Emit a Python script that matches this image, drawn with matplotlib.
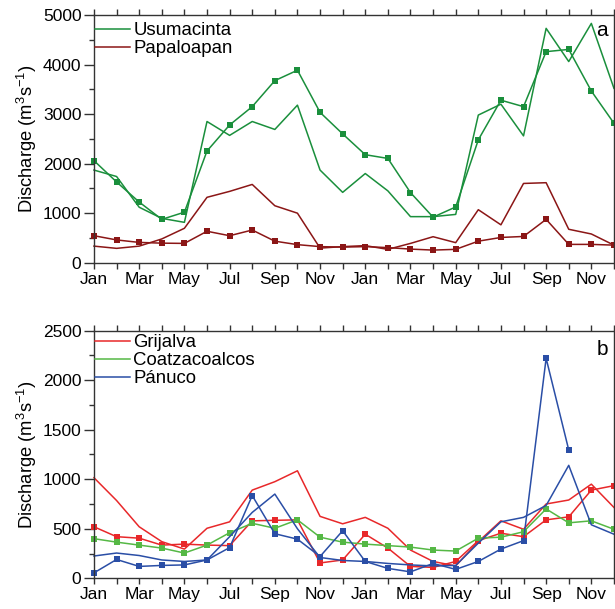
import matplotlib
matplotlib.use('Agg')
import matplotlib.pyplot as plt
from matplotlib.lines import Line2D
from matplotlib.ticker import MultipleLocator

plt.rcParams['font.family'] = ['Liberation Sans', 'DejaVu Sans']
plt.rcParams['mathtext.fontset'] = 'custom'
plt.rcParams['mathtext.rm'] = 'Liberation Sans'

months = ['Jan', 'Feb', 'Mar', 'Apr', 'May', 'Jun', 'Jul', 'Aug', 'Sep', 'Oct', 'Nov', 'Dec'] * 2
x = list(range(24))

# panel a
usuma_line = [1870, 1740, 1120, 895, 815, 2850, 2570, 2850, 2690, 3180, 1870, 1420,
              1800, 1450, 930, 930, 975, 2980, 3200, 2560, 4730, 4060, 4830, 3520]
usuma_mark = [2060, 1630, 1225, 875, 1020, 2255, 2780, 3150, 3675, 3885, 3035, 2600,
              2180, 2105, 1415, 920, 1125, 2480, 3280, 3150, 4260, 4305, 3465, 2815]
papal_line = [335, 290, 335, 480, 695, 1320, 1440, 1580, 1150, 1000, 295, 325,
              345, 270, 390, 525, 405, 1070, 765, 1600, 1615, 675, 580, 355]
papal_mark = [545, 460, 410, 395, 390, 635, 545, 660, 435, 365, 325, 315,
              325, 305, 275, 255, 270, 435, 510, 530, 875, 370, 370, 355]

# panel b
grij_line = [1015, 785, 520, 370, 295, 505, 570, 890, 975, 1085, 625, 550,
             615, 505, 285, 170, 125, 370, 580, 495, 750, 790, 950, 715]
grij_mark = [520, 420, 405, 335, 345, 335, 330, 580, 585, 590, 155, 185,
             445, 305, 120, 110, 170, 380, 455, 420, 590, 620, 890, 935]
coatz_mark = [400, 365, 335, 305, 255, 335, 460, 555, 505, 590, 415, 365,
              345, 330, 315, 285, 275, 405, 415, 470, 700, 560, 580, 495]
panuco_line = [225, 255, 230, 185, 170, 185, 420, 665, 850, 500, 210, 180,
               170, 150, 135, 125, 130, 355, 570, 615, 735, 1140, 540, 445]
panuco_mark = [55, 190, 120, 130, 135, 185, 310, 835, 450, 395, 220, 480,
               170, 100, 65, 150, 90, 170, 295, 380, 2220, 1295, None, None]

c_usuma = '#1a8f3c'
c_papal = '#8b1616'
c_grij = '#e8282a'
c_coatz = '#55b845'
c_panuco = '#2a4ea6'

fig = plt.figure(figsize=(6.15, 6.09), dpi=100)
ax1 = fig.add_axes([0.1528, 0.5686, 0.8455, 0.4068])
ax2 = fig.add_axes([0.1528, 0.0504, 0.8455, 0.4068])

lw = 1.1
ms = 4.3


def mark_line(ax, y, color):
    xs = [i for i, v in zip(x, y) if v is not None]
    ys = [v for v in y if v is not None]
    ax.plot(xs, ys, color=color, lw=lw, marker='s', ms=ms, mew=0, clip_on=False)


ax1.plot(x, usuma_line, color=c_usuma, lw=lw, clip_on=False)
mark_line(ax1, usuma_mark, c_usuma)
ax1.plot(x, papal_line, color=c_papal, lw=lw, clip_on=False)
mark_line(ax1, papal_mark, c_papal)

ax2.plot(x, grij_line, color=c_grij, lw=lw, clip_on=False)
mark_line(ax2, grij_mark, c_grij)
mark_line(ax2, coatz_mark, c_coatz)
ax2.plot(x, panuco_line, color=c_panuco, lw=lw, clip_on=False)
mark_line(ax2, panuco_mark, c_panuco)

ax1.set_ylim(0, 5000)
ax1.yaxis.set_major_locator(MultipleLocator(1000))
ax1.yaxis.set_minor_locator(MultipleLocator(500))
ax2.set_ylim(0, 2500)
ax2.yaxis.set_major_locator(MultipleLocator(500))
ax2.yaxis.set_minor_locator(MultipleLocator(250))

for ax in (ax1, ax2):
    ax.set_xlim(0, 23)
    ax.set_xticks(x)
    ax.set_xticklabels([m if i % 2 == 0 else '' for i, m in enumerate(months)])
    ax.tick_params(axis='both', which='both', direction='out', top=True, right=True,
                   labelsize=12.5, color='#333333', width=1.0, pad=2)
    ax.tick_params(axis='y', which='major', length=7)
    ax.tick_params(axis='y', which='minor', length=3.5)
    ax.tick_params(axis='x', which='major', length=4.5)
    for s in ax.spines.values():
        s.set_color('#333333')
        s.set_linewidth(1.0)
    ax.set_ylabel('Discharge (m$^3$s$^{-1}$)', fontsize=13.2, labelpad=3)

ax1.text(0.988, 0.975, 'a', transform=ax1.transAxes, ha='right', va='top', fontsize=15)
ax2.text(0.988, 0.96, 'b', transform=ax2.transAxes, ha='right', va='top', fontsize=15)

h1 = [Line2D([], [], color=c_usuma, lw=lw), Line2D([], [], color=c_papal, lw=lw)]
ax1.legend(h1, ['Usumacinta', 'Papaloapan'], loc='upper left', frameon=False,
           fontsize=13.4, handlelength=1.85, handletextpad=0.2, labelspacing=0.05,
           bbox_to_anchor=(-0.005, 0.985), borderaxespad=0.0, borderpad=0.2)
h2 = [Line2D([], [], color=c_grij, lw=lw), Line2D([], [], color=c_coatz, lw=lw),
      Line2D([], [], color=c_panuco, lw=lw)]
ax2.legend(h2, ['Grijalva', 'Coatzacoalcos', 'Pánuco'], loc='upper left', frameon=False,
           fontsize=13.4, handlelength=1.85, handletextpad=0.2, labelspacing=0.05,
           bbox_to_anchor=(-0.005, 1.0), borderaxespad=0.0, borderpad=0.2)

fig.savefig('out.png', dpi=100)
plt.close(fig)
